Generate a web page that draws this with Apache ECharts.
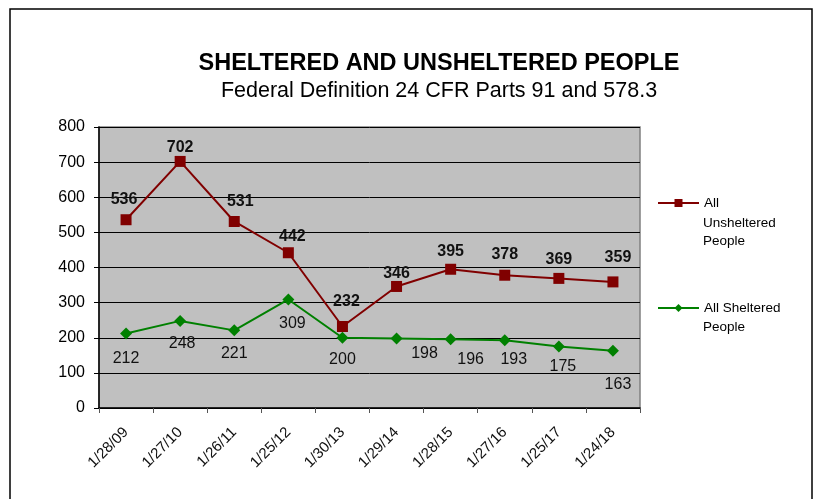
<!DOCTYPE html>
<html lang="en">
<head>
    <meta charset="UTF-8">
    <title>Sheltered and Unsheltered People</title>
    <script src="https://cdn.jsdelivr.net/npm/echarts@6/dist/echarts.min.js"></script>
    <style>
        html, body { margin: 0; padding: 0; background: #fff; }
        #container { width: 820px; height: 499px; }
    </style>
</head>
<body>
<div id="container"></div>
<script type="text/javascript">
    var dates = ['1/28/09', '1/27/10', '1/26/11', '1/25/12', '1/30/13', '1/29/14', '1/28/15', '1/27/16', '1/25/17', '1/24/18'];
    var unsheltered = [536, 702, 531, 442, 232, 346, 395, 378, 369, 359];
    var sheltered = [212, 248, 221, 309, 200, 198, 196, 193, 175, 163];
    var yTicks = [0, 100, 200, 300, 400, 500, 600, 700, 800];

    // label nudges
    var redOffsets = [[-2, 2], [0, 9], [6, 3], [4, 6], [4, -2], [0, 10], [0, 5], [0, 2], [0, 4], [5, -2]];
    var greenOffsets = [[0, 2], [2, 0], [0, 0], [4, 1], [0, -1], [28, -8], [20, -3], [9, -4], [4, -3], [5, 11]];

    var dom = document.getElementById('container');
    var myChart = echarts.init(dom);
    var font = 'Arial, "Liberation Sans", sans-serif';

    function withOffsets(values, offsets) {
        return values.map(function (v, i) {
            return { value: v, label: { offset: offsets[i] } };
        });
    }

    var legendText = { fontFamily: font, fontSize: 13.5, color: '#000' };

    var option = {
        backgroundColor: '#fff',
        animation: false,
        title: {
            text: 'SHELTERED AND UNSHELTERED PEOPLE',
            subtext: 'Federal Definition 24 CFR Parts 91 and 578.3',
            left: 434,
            textAlign: 'center',
            top: 47,
            itemGap: 4,
            textStyle: { fontFamily: font, fontSize: 23.5, fontWeight: 'bold', color: '#000' },
            subtextStyle: { fontFamily: font, fontSize: 21.5, color: '#000' }
        },
        grid: { left: 99, right: 180, top: 127, bottom: 91, show: true, backgroundColor: '#c0c0c0', borderColor: '#808080', borderWidth: 1.5 },
        legend: [
            {
                data: ['All Unsheltered People'],
                left: 657, top: 196, padding: 0,
                itemWidth: 41, itemHeight: 10,
                formatter: function (name) { return 'All'; },
                textStyle: legendText
            },
            {
                data: ['All Sheltered People'],
                left: 657, top: 301, padding: 0,
                itemWidth: 41, itemHeight: 10,
                formatter: function (name) { return 'All Sheltered'; },
                textStyle: legendText
            }
        ],
        xAxis: {
            type: 'category',
            data: dates,
            boundaryGap: true,
            axisLine: { lineStyle: { color: '#000', width: 1.5 } },
            axisTick: { show: true, length: 5, lineStyle: { color: '#555' } },
            axisLabel: { rotate: 45, fontFamily: font, fontSize: 15, color: '#111', margin: 22 },
            splitLine: { show: false }
        },
        yAxis: {
            type: 'value',
            min: yTicks[0],
            max: yTicks[yTicks.length - 1],
            interval: 100,
            axisLine: { show: true, lineStyle: { color: '#000', width: 1.5 } },
            axisTick: { show: true, length: 5, lineStyle: { color: '#000' } },
            axisLabel: { fontFamily: font, fontSize: 16, color: '#000', margin: 14 },
            splitLine: { show: true, lineStyle: { color: '#000', width: 1 } }
        },
        series: [
            {
                name: 'All Unsheltered People',
                type: 'line',
                data: withOffsets(unsheltered, redOffsets),
                symbol: 'rect',
                symbolSize: 11,
                color: '#800000',
                lineStyle: { color: '#800000', width: 2 },
                itemStyle: { color: '#800000' },
                label: { show: true, position: 'top', distance: 9, fontFamily: font, fontSize: 16, fontWeight: 'bold', color: '#111' },
                z: 3
            },
            {
                name: 'All Sheltered People',
                type: 'line',
                data: withOffsets(sheltered, greenOffsets),
                symbol: 'diamond',
                symbolSize: 12,
                color: '#008000',
                lineStyle: { color: '#008000', width: 2 },
                itemStyle: { color: '#008000' },
                label: { show: true, position: 'bottom', distance: 9, fontFamily: font, fontSize: 16, color: '#111' },
                z: 2
            }
        ],
        graphic: [
            {
                type: 'rect',
                shape: { x: 10, y: 9, width: 802, height: 500 },
                style: { fill: null, stroke: '#000', lineWidth: 1.5 },
                silent: true
            },
            {
                type: 'text', left: 703, top: 214, silent: true,
                style: { text: 'Unsheltered\nPeople', font: '13.5px ' + font, fill: '#000', lineHeight: 18 }
            },
            {
                type: 'text', left: 703, top: 318, silent: true,
                style: { text: 'People', font: '13.5px ' + font, fill: '#000', lineHeight: 18 }
            }
        ]
    };

    if (option && typeof option === 'object') {
        myChart.setOption(option);
    }
</script>
</body>
</html>
